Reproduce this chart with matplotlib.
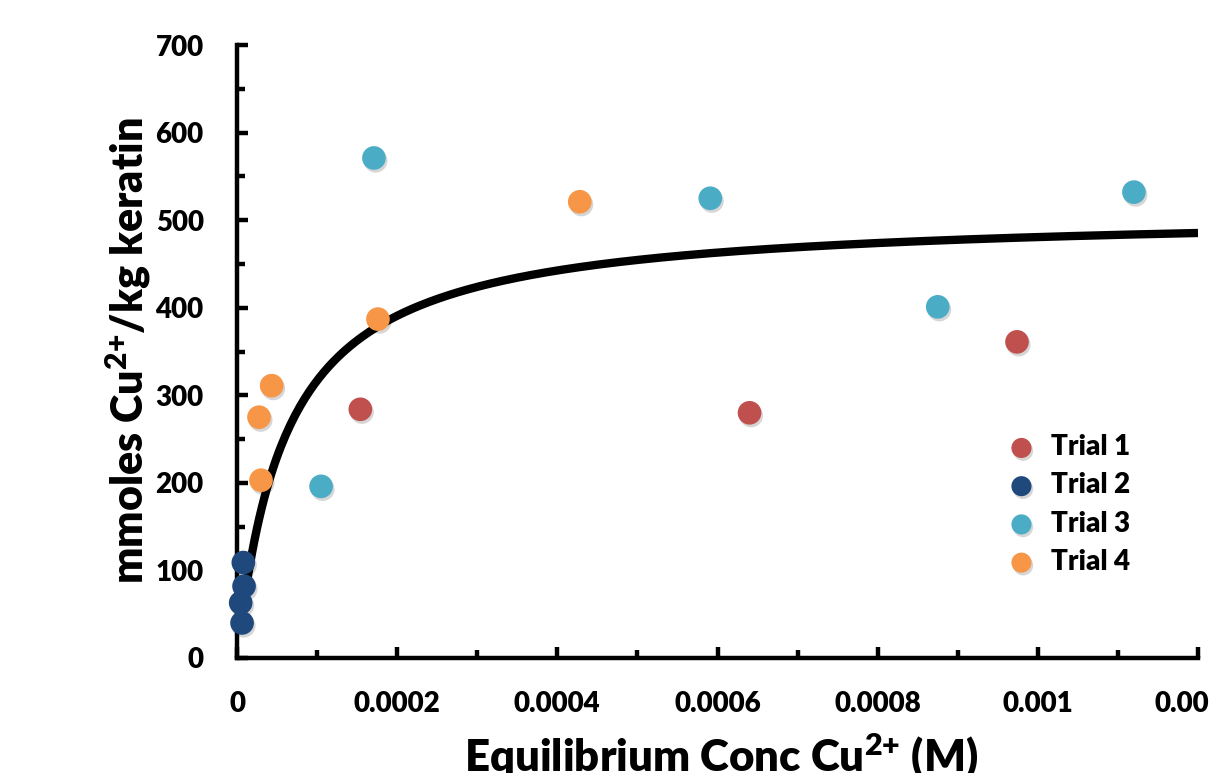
import numpy as np
import matplotlib
matplotlib.use("Agg")
import matplotlib.pyplot as plt
import matplotlib.patheffects as pe
from matplotlib.ticker import MultipleLocator, FixedLocator, FixedFormatter

# equilibrium concentration (M) and uptake (mmol Cu2+/kg keratin) per trial
trial1_c = [0.000154, 0.000640, 0.000974]
trial1_q = [284, 280, 361]
trial2_c = [0.0000079, 0.0000088, 0.0000046, 0.0000063]
trial2_q = [109, 82, 63, 40]
trial3_c = [0.000171, 0.000105, 0.000591, 0.000875, 0.001120]
trial3_q = [571, 196, 525, 401, 532]
trial4_c = [0.0000433, 0.0000275, 0.0000300, 0.000176, 0.000428]
trial4_q = [311, 275, 203, 387, 521]

# Langmuir fit
q_max = 510.0
k_d = 6.1e-5

x_ticks = [0, 0.0002, 0.0004, 0.0006, 0.0008, 0.001, 0.0012]
x_ticklabels = ["0", "0.0002", "0.0004", "0.0006", "0.0008", "0.001", "0.0012"]
y_ticks = [0, 100, 200, 300, 400, 500, 600, 700]

WT = 'heavy'
plt.rcParams['font.family'] = ['Lato', 'DejaVu Sans']
plt.rcParams['font.weight'] = WT
plt.rcParams['mathtext.fontset'] = 'custom'
plt.rcParams['mathtext.rm'] = 'Lato:heavy'
plt.rcParams['mathtext.bf'] = 'Lato:heavy'
plt.rcParams['mathtext.it'] = 'Lato:heavy'

W, H = 1209, 773
fig = plt.figure(figsize=(W / 100, H / 100), dpi=100)
ax = fig.add_axes([237 / W, (H - 658) / H, (1198 - 237) / W, (658 - 45) / H])

c = np.linspace(1.0e-5, 0.0012, 400)
q = q_max * c / (k_d + c)
ax.plot(c, q, color='black', lw=6, solid_capstyle='butt', zorder=2)

shadow = [pe.SimplePatchShadow(offset=(1.2, -2), shadow_rgbFace='black', alpha=0.16), pe.Normal()]
series = [
    (trial1_c, trial1_q, '#C0504D', 'Trial 1'),
    (trial2_c, trial2_q, '#1F497D', 'Trial 2'),
    (trial3_c, trial3_q, '#4BACC6', 'Trial 3'),
    (trial4_c, trial4_q, '#F79646', 'Trial 4'),
]
for xs, ys, col, lab in series:
    sc = ax.scatter(xs, ys, s=290, color=col, edgecolors='none', label=lab, zorder=3, clip_on=False)
    sc.set_path_effects(shadow)

ax.set_xlim(0, 0.0012)
ax.set_ylim(0, 700)
ax.xaxis.set_major_locator(FixedLocator(x_ticks))
ax.xaxis.set_major_formatter(FixedFormatter(x_ticklabels))
ax.xaxis.set_minor_locator(MultipleLocator(0.0001))
ax.yaxis.set_major_locator(FixedLocator(y_ticks))
ax.yaxis.set_minor_locator(MultipleLocator(50))

for s in ['top', 'right']:
    ax.spines[s].set_visible(False)
for s in ['left', 'bottom']:
    ax.spines[s].set_linewidth(3.2)
    ax.spines[s].set_capstyle('projecting')

ax.tick_params(which='major', direction='in', length=8, width=3.2, labelsize=20)
ax.tick_params(which='minor', direction='in', length=6, width=3.2)
ax.tick_params(axis='x', which='major', pad=24)
ax.tick_params(axis='y', which='major', pad=24)

fig.text(128 / W, 1 - 351 / H, r'mmoles Cu$^{2{+}}$/kg keratin', rotation=90,
         ha='center', va='center', fontsize=31, fontweight=WT)
fig.text(721 / W, 1 / H, r'Equilibrium Conc Cu$^{2{+}}$ (M)',
         ha='center', va='baseline', fontsize=31.5, fontweight=WT)

leg = ax.legend(loc='upper left', bbox_to_anchor=(0.804, 0.365), frameon=False,
                fontsize=20, borderpad=0, handlelength=0.85, handletextpad=0.65,
                labelspacing=0.44, borderaxespad=0, scatterpoints=1, markerscale=0.85)

fig.savefig('out.png', dpi=100)
